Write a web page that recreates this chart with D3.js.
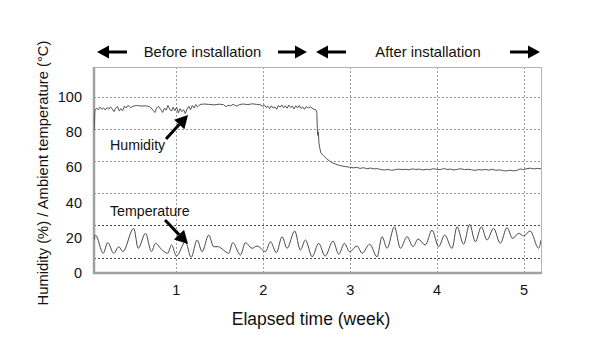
<!DOCTYPE html>
<html>
<head>
<meta charset="utf-8">
<script src="https://cdn.jsdelivr.net/npm/d3@7/dist/d3.min.js"></script>
<style>
  html, body { margin: 0; padding: 0; background: #fff; }
  svg { display: block; font-family: "Liberation Sans", Arial, sans-serif; }
</style>
</head>
<body>
<svg id="chart" width="614" height="344"></svg>
<script>
// Week ticks on the x axis
const weekTicks = [1, 2, 3, 4, 5];
// Value ticks on the y axis
const valueTicks = [0, 20, 40, 60, 80, 100];
// Horizontal guide lines (as printed, offset from the labelled ticks)
const hGuides = [100, 81.6, 63.6, 45.1, 27.2, 8.7];

// Humidity (%) vs elapsed week
const humidityWeek = [0.062,0.07,0.09,0.11,0.13,0.15,0.17,0.19,0.21,0.23,0.25,0.27,0.29,0.31,0.33,0.35,0.37,0.39,0.41,0.43,0.45,0.48,0.51,0.55,0.60,0.65,0.70,0.74,0.76,0.78,0.80,0.83,0.85,0.87,0.89,0.91,0.93,0.95,0.97,0.99,1.01,1.03,1.05,1.07,1.09,1.11,1.13,1.15,1.17,1.19,1.21,1.23,1.25,1.28,1.32,1.38,1.44,1.50,1.55,1.58,1.60,1.63,1.66,1.70,1.73,1.77,1.83,1.88,1.93,1.97,2.00,2.02,2.04,2.06,2.08,2.10,2.12,2.14,2.16,2.18,2.20,2.22,2.24,2.26,2.28,2.30,2.32,2.34,2.36,2.38,2.40,2.42,2.44,2.46,2.48,2.50,2.52,2.55,2.58,2.61,2.622,2.628,2.634,2.640,2.646,2.655,2.67,2.70,2.74,2.80,2.88,2.95,3.00,3.04,3.08,3.12,3.16,3.20,3.24,3.28,3.32,3.36,3.40,3.44,3.48,3.52,3.56,3.60,3.64,3.68,3.72,3.76,3.80,3.84,3.88,3.92,3.96,4.00,4.04,4.08,4.12,4.16,4.20,4.24,4.28,4.32,4.36,4.40,4.44,4.48,4.52,4.56,4.60,4.64,4.68,4.72,4.76,4.80,4.84,4.88,4.92,4.96,5.00,5.04,5.08,5.12,5.16,5.20];
const humidityValue = [81,92,93.5,92.5,94,92.8,93.6,92.4,93.8,92.9,94.2,93,91.5,93.5,94.5,91.8,93.2,92,94.6,93.5,95,93.8,94.5,95,94.6,94.8,94.3,92.2,91,93.5,94.5,92.5,91,93.5,92.3,95,93,91.8,94,92,94,90.8,93.2,91.5,92.6,90.4,93,94.5,92.5,95,93.5,95.5,94.2,95.5,95.8,95.6,95.3,95.7,95.4,94.2,95.1,94.8,95.6,94.6,95.4,95.8,95.5,95.9,95.6,95.4,94.6,95.2,93.8,94.6,93.2,94.8,93.5,94.2,92.8,95,94,95.3,93.6,94.8,93.4,95.2,93.8,94.6,93,94.8,93.5,95,93.3,94.2,92.8,94.4,93.5,94.2,93,92.5,91,82,78,80,74,71,68,66.5,64.5,62.5,61,60.3,60,59.6,59.9,59.3,59.7,59.1,59.5,59.0,59.2,58.6,58.4,58.7,58.2,58.5,58.9,58.6,58.8,58.5,59,58.7,58.9,58.4,58.8,58.6,59.1,58.8,58.6,59.2,58.7,58.9,58.4,58.8,59.1,58.6,58.8,58.5,58.2,58.6,58.4,58.7,58.3,58.8,58.2,58.5,58.1,57.8,58.3,57.9,58.1,59,58.6,59.2,59.4,59.0,59.3,59.1];

// Ambient temperature (°C) vs elapsed week, daily highs and lows
const tempWeek = [0.062,0.077,0.166,0.218,0.287,0.345,0.391,0.517,0.568,0.652,0.721,0.767,0.844,0.908,0.951,1.008,1.111,1.177,1.246,1.303,1.379,1.437,1.491,1.548,1.609,1.655,1.744,1.801,1.878,1.936,2.031,2.089,2.157,2.223,2.280,2.368,2.433,2.491,2.568,2.644,2.718,2.809,2.874,2.939,3.000,3.085,3.143,3.230,3.315,3.372,3.430,3.514,3.583,3.660,3.729,3.786,3.870,3.947,4.023,4.092,4.177,4.234,4.310,4.379,4.445,4.514,4.579,4.655,4.732,4.809,4.874,4.943,5.000,5.077,5.172,5.200];
const tempValue = [19,21.5,11.2,17.2,11.2,14.9,12.1,25.3,14.0,22.5,12.1,16.8,13.0,11.2,15.9,9.6,17.7,8.9,18.7,12.1,21.5,14.9,14.9,13.0,11.2,17.2,10.2,17.2,14.0,15.3,12.1,17.7,11.5,20.6,14.0,23.8,13.0,18.7,9.2,16.8,9.6,18.1,10.6,16.8,12.1,15.3,11.2,16.3,9.2,20.6,14.0,26.2,14.0,20.6,14.9,19.3,15.9,24.3,14.9,21.5,14.0,26.2,16.3,27.6,17.7,26.2,18.7,25.3,16.8,25.7,19.6,22.5,21.1,23.8,14.0,18.7];

const svg = d3.select("#chart");
const plotL = 94, plotR = 541, plotT = 67, plotB = 273;

const x = d3.scaleLinear().domain([0.06, 5.2]).range([plotL, plotR]);
const y = d3.scaleLinear().domain([0, 100]).range([plotB, 96.6]);

svg.append("defs").append("clipPath").attr("id", "plotClip")
  .append("rect").attr("x", plotL).attr("y", plotT)
  .attr("width", plotR - plotL).attr("height", plotB - plotT);

// Grid
const grid = svg.append("g");
grid.selectAll("line.v").data(weekTicks).join("line")
  .attr("x1", d => Math.round(x(d)) + 0.5).attr("x2", d => Math.round(x(d)) + 0.5)
  .attr("y1", plotT).attr("y2", plotB)
  .attr("stroke", "#9a9a9a").attr("stroke-width", 1)
  .attr("stroke-dasharray", "2,2");
grid.selectAll("line.h").data(hGuides).join("line")
  .attr("x1", plotL).attr("x2", plotR)
  .attr("y1", d => Math.round(y(d)) + 0.5).attr("y2", d => Math.round(y(d)) + 0.5)
  .attr("stroke", d => d < 30 ? "#444" : "#9a9a9a").attr("stroke-width", 1)
  .attr("stroke-dasharray", "2,2");

// Frame
svg.append("line").attr("x1", plotL).attr("x2", plotR).attr("y1", plotT + 0.5).attr("y2", plotT + 0.5)
  .attr("stroke", "#b4b4b4");
svg.append("line").attr("x1", plotR + 0.5).attr("x2", plotR + 0.5).attr("y1", plotT).attr("y2", plotB)
  .attr("stroke", "#b4b4b4");
svg.append("line").attr("x1", plotL).attr("x2", plotL).attr("y1", plotT).attr("y2", plotB + 1)
  .attr("stroke", "#a0a0a0").attr("stroke-width", 2.5);
svg.append("line").attr("x1", plotL - 1).attr("x2", plotR + 1).attr("y1", plotB).attr("y2", plotB)
  .attr("stroke", "#a0a0a0").attr("stroke-width", 2.5);

// Axes
const xAxis = d3.axisBottom(x).tickValues(weekTicks).tickFormat(d3.format("d"))
  .tickSize(0).tickPadding(12);
const gx = svg.append("g").attr("transform", `translate(0,${plotB})`).call(xAxis);
gx.select(".domain").remove();
gx.selectAll("text").attr("font-size", 14.5).attr("fill", "#111")
  .attr("font-family", "Liberation Sans, Arial, sans-serif");

const yAxis = d3.axisLeft(y).tickValues(valueTicks).tickFormat(d3.format("d"))
  .tickSize(0).tickPadding(12);
const gy = svg.append("g").attr("transform", `translate(${plotL},0)`).call(yAxis);
gy.select(".domain").remove();
gy.selectAll("text").attr("font-size", 14.5).attr("fill", "#111")
  .attr("font-family", "Liberation Sans, Arial, sans-serif");

// Series
const plot = svg.append("g").attr("clip-path", "url(#plotClip)");
const humLine = d3.line().x(d => x(d[0])).y(d => y(d[1]));
const tempLine = d3.line().x(d => x(d[0])).y(d => y(d[1])).curve(d3.curveMonotoneX);
plot.append("path")
  .datum(humidityWeek.map((w, i) => [w, humidityValue[i]]))
  .attr("d", humLine).attr("fill", "none")
  .attr("stroke", "#555").attr("stroke-width", 1);
plot.append("path")
  .datum(tempWeek.map((w, i) => [w, tempValue[i]]))
  .attr("d", tempLine).attr("fill", "none")
  .attr("stroke", "#4a4a4a").attr("stroke-width", 1);

// Arrow helper: shaft plus filled triangular head at (x2, y2)
function arrow(g, x1, y1, x2, y2, w, headLen, headHalf) {
  const a = Math.atan2(y2 - y1, x2 - x1);
  const bx = x2 - headLen * Math.cos(a), by = y2 - headLen * Math.sin(a);
  g.append("line").attr("x1", x1).attr("y1", y1).attr("x2", bx).attr("y2", by)
    .attr("stroke", "#000").attr("stroke-width", w);
  const px = -Math.sin(a) * headHalf, py = Math.cos(a) * headHalf;
  g.append("path")
    .attr("d", `M${x2},${y2}L${bx + px},${by + py}L${bx - px},${by - py}Z`)
    .attr("fill", "#000");
}

// Period header
const hdr = svg.append("g");
const hy = 52;
arrow(hdr, 127, hy, 97, hy, 3, 12, 6.5);
arrow(hdr, 278, hy, 307, hy, 3, 12, 6.5);
arrow(hdr, 346, hy, 316, hy, 3, 12, 6.5);
arrow(hdr, 510, hy, 540, hy, 3, 12, 6.5);
hdr.append("text").attr("x", 202.5).attr("y", hy + 5).attr("text-anchor", "middle")
  .attr("font-size", 14.8).attr("fill", "#111").text("Before installation");
hdr.append("text").attr("x", 428).attr("y", hy + 5).attr("text-anchor", "middle")
  .attr("font-size", 14.8).attr("fill", "#111").text("After installation");

// Series annotations
const ann = svg.append("g");
ann.append("text").attr("x", 110).attr("y", 150).attr("font-size", 14.2)
  .attr("fill", "#111").text("Humidity");
arrow(ann, 166, 139, 188, 115, 3, 13, 7);
ann.append("text").attr("x", 110).attr("y", 216).attr("font-size", 14.2)
  .attr("fill", "#111").text("Temperature");
arrow(ann, 165, 220, 188, 244, 3, 13, 7);

// Axis titles
svg.append("text").attr("x", 311).attr("y", 325).attr("text-anchor", "middle")
  .attr("font-size", 17.5).attr("fill", "#111").text("Elapsed time (week)");
svg.append("text").attr("transform", "translate(48,173) rotate(-90)")
  .attr("text-anchor", "middle").attr("font-size", 14.8).attr("fill", "#111")
  .text("Humidity (%) / Ambient temperature (°C)");
</script>
</body>
</html>
